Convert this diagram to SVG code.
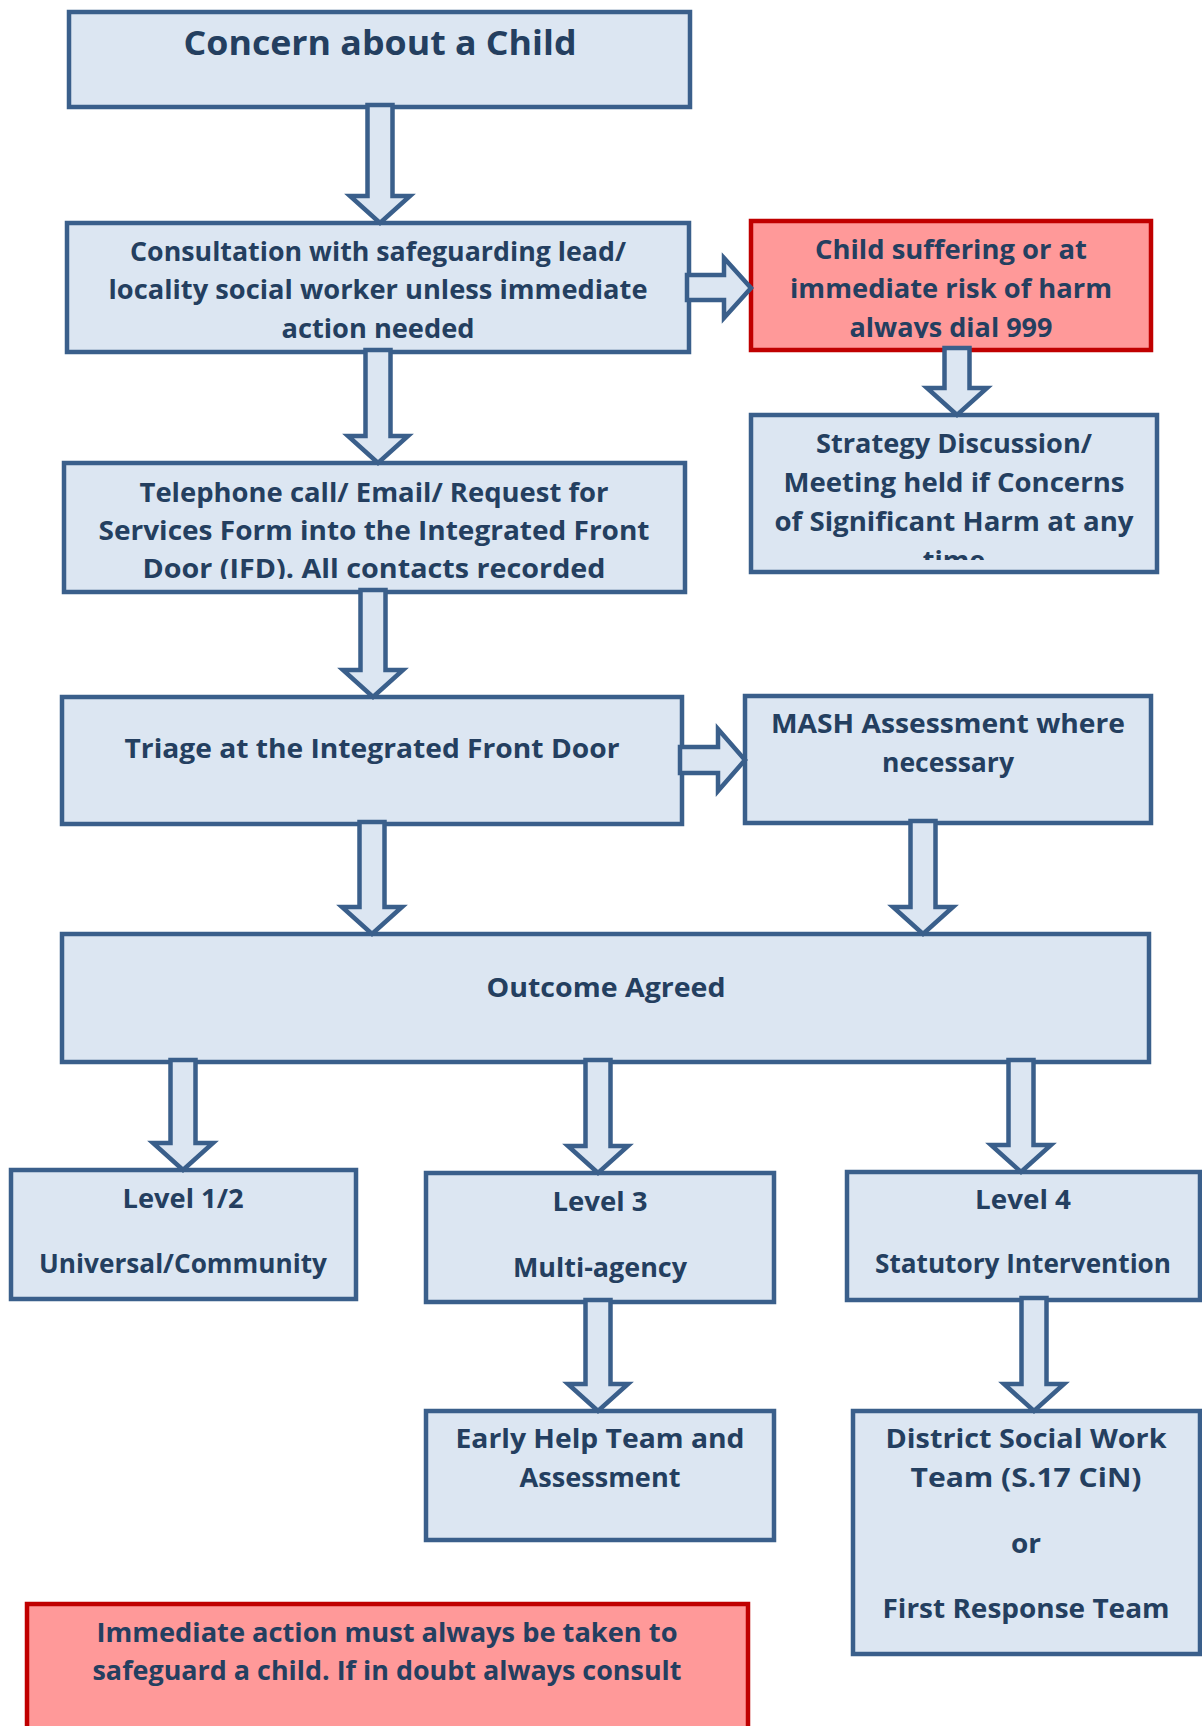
<svg xmlns="http://www.w3.org/2000/svg" width="1202" height="1726" viewBox="0 0 1202 1726">
<style>
.box{fill:#DCE6F2;stroke:#3A5F8B;stroke-width:4.5}
.red{fill:#FF9999;stroke:#C00000;stroke-width:4.5}
.arr{fill:#DCE6F2;stroke:#3A5F8B;stroke-width:4.5;stroke-linejoin:miter}
text{font-family:"Open Sans","Liberation Sans",sans-serif;font-weight:700;font-size:27px;fill:#243F60;text-anchor:middle}
.title{font-size:34px}
</style>
<defs>
<clipPath id="cRed"><rect x="751" y="221" width="400" height="117"/></clipPath>
<clipPath id="cStr"><rect x="751" y="415" width="406" height="145"/></clipPath>
<clipPath id="cTel"><rect x="64" y="463" width="621" height="116"/></clipPath>
</defs>
<rect width="1202" height="1726" fill="#ffffff"/>
<g id="n-concern">
<rect class="box" x="69" y="12" width="621" height="95"/>
<text class="title" x="380" y="55" textLength="393" lengthAdjust="spacingAndGlyphs">Concern about a Child</text>
</g>
<g id="n-consult">
<rect class="box" x="67" y="223" width="622" height="129"/>
<text x="378" y="261" textLength="496" lengthAdjust="spacingAndGlyphs">Consultation with safeguarding lead/</text>
<text x="378" y="299" textLength="539" lengthAdjust="spacingAndGlyphs">locality social worker unless immediate</text>
<text x="378" y="338" textLength="193" lengthAdjust="spacingAndGlyphs">action needed</text>
</g>
<g id="n-harm">
<rect class="red" x="751" y="221" width="400" height="129"/>
<g clip-path="url(#cRed)">
<text x="951" y="259" textLength="272" lengthAdjust="spacingAndGlyphs">Child suffering or at</text>
<text x="951" y="298" textLength="322" lengthAdjust="spacingAndGlyphs">immediate risk of harm</text>
<text x="951" y="337" textLength="203" lengthAdjust="spacingAndGlyphs">always dial 999</text>
</g>
</g>
<g id="n-strategy">
<rect class="box" x="751" y="415" width="406" height="157"/>
<g clip-path="url(#cStr)">
<text x="954" y="453" textLength="276" lengthAdjust="spacingAndGlyphs">Strategy Discussion/</text>
<text x="954" y="492" textLength="341" lengthAdjust="spacingAndGlyphs">Meeting held if Concerns</text>
<text x="954" y="531" textLength="359" lengthAdjust="spacingAndGlyphs">of Significant Harm at any</text>
<text x="954" y="570">time</text>
</g>
</g>
<g id="n-telephone">
<rect class="box" x="64" y="463" width="621" height="129"/>
<g clip-path="url(#cTel)">
<text x="374" y="502" textLength="469" lengthAdjust="spacingAndGlyphs">Telephone call/ Email/ Request for</text>
<text x="374" y="540" textLength="551" lengthAdjust="spacingAndGlyphs">Services Form into the Integrated Front</text>
<text x="374" y="578" textLength="463" lengthAdjust="spacingAndGlyphs">Door (IFD). All contacts recorded</text>
</g>
</g>
<g id="n-triage">
<rect class="box" x="62" y="697" width="620" height="127"/>
<text x="372" y="758" textLength="495" lengthAdjust="spacingAndGlyphs">Triage at the Integrated Front Door</text>
</g>
<g id="n-mash">
<rect class="box" x="745" y="696" width="406" height="127"/>
<text x="948" y="733" textLength="354" lengthAdjust="spacingAndGlyphs">MASH Assessment where</text>
<text x="948" y="772" textLength="132" lengthAdjust="spacingAndGlyphs">necessary</text>
</g>
<g id="n-outcome">
<rect class="box" x="62" y="934" width="1087" height="128"/>
<text x="606" y="997" textLength="239" lengthAdjust="spacingAndGlyphs">Outcome Agreed</text>
</g>
<g id="n-level12">
<rect class="box" x="11" y="1170" width="345" height="129"/>
<text x="183" y="1208" textLength="121" lengthAdjust="spacingAndGlyphs">Level 1/2</text>
<text x="183" y="1273" textLength="288" lengthAdjust="spacingAndGlyphs">Universal/Community</text>
</g>
<g id="n-level3">
<rect class="box" x="426" y="1173" width="348" height="129"/>
<text x="600" y="1211" textLength="95" lengthAdjust="spacingAndGlyphs">Level 3</text>
<text x="600" y="1277" textLength="174" lengthAdjust="spacingAndGlyphs">Multi-agency</text>
</g>
<g id="n-level4">
<rect class="box" x="847" y="1172" width="353" height="128"/>
<text x="1023" y="1209" textLength="96" lengthAdjust="spacingAndGlyphs">Level 4</text>
<text x="1023" y="1273" textLength="296" lengthAdjust="spacingAndGlyphs">Statutory Intervention</text>
</g>
<g id="n-earlyhelp">
<rect class="box" x="426" y="1411" width="348" height="129"/>
<text x="600" y="1448" textLength="289" lengthAdjust="spacingAndGlyphs">Early Help Team and</text>
<text x="600" y="1487" textLength="161" lengthAdjust="spacingAndGlyphs">Assessment</text>
</g>
<g id="n-district">
<rect class="box" x="853" y="1411" width="347" height="243"/>
<text x="1026" y="1448" textLength="281" lengthAdjust="spacingAndGlyphs">District Social Work</text>
<text x="1026" y="1487" textLength="231" lengthAdjust="spacingAndGlyphs">Team (S.17 CiN)</text>
<text x="1026" y="1553" textLength="30" lengthAdjust="spacingAndGlyphs">or</text>
<text x="1026" y="1618" textLength="287" lengthAdjust="spacingAndGlyphs">First Response Team</text>
</g>
<g id="n-immediate">
<rect class="red" x="27" y="1604" width="721" height="140"/>
<text x="387" y="1642" textLength="581" lengthAdjust="spacingAndGlyphs">Immediate action must always be taken to</text>
<text x="387" y="1680" textLength="589" lengthAdjust="spacingAndGlyphs">safeguard a child. If in doubt always consult</text>
</g>
<g id="connectors">
<polygon class="arr" points="367.5,105 392.5,105 392.5,196 410,196 380,223 350,196 367.5,196"/>
<polygon class="arr" points="365.5,350 390.5,350 390.5,436 408,436 378,463 348,436 365.5,436"/>
<polygon class="arr" points="360.5,590 385.5,590 385.5,670 403,670 373,697 343,670 360.5,670"/>
<polygon class="arr" points="359.5,822 384.5,822 384.5,907 402,907 372,934 342,907 359.5,907"/>
<polygon class="arr" points="910.5,821 935.5,821 935.5,907 953,907 923,934 893,907 910.5,907"/>
<polygon class="arr" points="944.5,348 969.5,348 969.5,388 987,388 957,415 927,388 944.5,388"/>
<polygon class="arr" points="170.5,1060 195.5,1060 195.5,1143 213,1143 183,1170 153,1143 170.5,1143"/>
<polygon class="arr" points="585.5,1060 610.5,1060 610.5,1146 628,1146 598,1173 568,1146 585.5,1146"/>
<polygon class="arr" points="1008.5,1060 1033.5,1060 1033.5,1145 1051,1145 1021,1172 991,1145 1008.5,1145"/>
<polygon class="arr" points="585.5,1300 610.5,1300 610.5,1384 628,1384 598,1411 568,1384 585.5,1384"/>
<polygon class="arr" points="1021.5,1298 1046.5,1298 1046.5,1384 1064,1384 1034,1411 1004,1384 1021.5,1384"/>
<polygon class="arr" points="687,275 724,275 724,258 751,288 724,318 724,300 687,300"/>
<polygon class="arr" points="680,747 718,747 718,729 745,760 718,791 718,773 680,773"/>
</g>
</svg>
